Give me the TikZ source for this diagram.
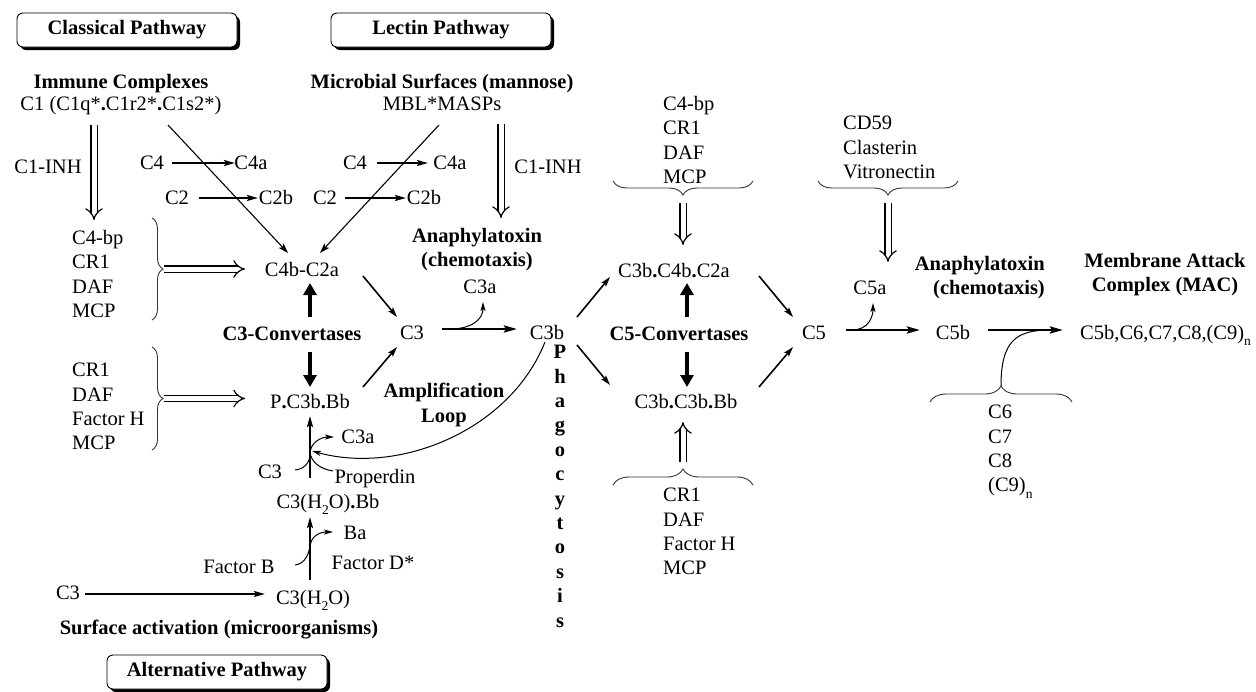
\documentclass[tikz,border=0pt]{standalone}
\usepackage{fontspec}
\setmainfont{Liberation Serif}
\usetikzlibrary{arrows.meta,calc,decorations.pathreplacing,shadows}
\newcommand\fs{\fontsize{20.5}{24.4}\selectfont}
\newcommand\bd{{\bfseries .}}
\newcommand\mysub[1]{\raisebox{-0.3em}{\fontsize{13.5}{14}\selectfont #1}}
\begin{document}
\begin{tikzpicture}[x=1pt,y=-1pt,
 t/.style={font=\fs, inner sep=0pt, text height=16pt, text depth=4pt},
 tb/.style={t, font=\fs\bfseries},
 ml/.style={font=\fs, inner sep=0pt},
 mlb/.style={font=\fs\bfseries, inner sep=0pt},
 pbox/.style={draw, rounded corners=6pt, line width=0.9pt, fill=white, minimum width=220pt, minimum height=34pt, font=\fs\bfseries, inner sep=0pt, drop shadow={shadow xshift=3pt, shadow yshift=-3pt, fill=black, opacity=1}},
 arr/.style={line width=1.6pt, -{Stealth[length=10pt,width=6pt,inset=2pt]}},
 thn/.style={line width=1.1pt, -{Stealth[length=10pt,width=6.5pt,inset=2pt]}},
 arrb/.style={line width=2pt, -{Stealth[length=11pt,width=6pt,inset=2pt]}},
 arrh/.style={line width=2.6pt, -{Stealth[length=13pt,width=7pt,inset=2pt]}},
 arrf/.style={line width=4.5pt, -{Triangle[length=12pt,width=13pt]}},
 dbl/.style={double=white, double distance=5pt, line width=1.2pt, -{Implies[length=9pt,width=17pt]}},
 brc/.style={decorate, decoration={brace, amplitude=#1}, line width=0.9pt, black!80},
 brc/.default=11pt,
 cur/.style={line width=1pt},
 cura/.style={line width=1pt, -{Stealth[length=9pt,width=5pt,inset=2pt]}},
]
\fill[white] (0,0) rectangle (1256,691);
\useasboundingbox (0,0) rectangle (1256,691);

% pathway boxes
\node[pbox] (boxC) at (127,30) {Classical Pathway};
\node[pbox] (boxL) at (441,30) {Lectin Pathway};
\node[pbox] (boxA) at (217,672) {Alternative Pathway};

% classical / lectin
\node[tb] (immune) at (121,82) {Immune Complexes};
\node[t] (c1) at (121,104) {C1 (C1q*\bd C1r2*\bd C1s2*)};
\node[tb] (micro) at (442,82) {Microbial Surfaces (mannose)};
\node[t] (mbl) at (442,104) {MBL*MASPs};
\node[t] (inh1) at (48,167) {C1-INH};
\node[t] (inh2) at (548,167) {C1-INH};
\node[t] (c4L) at (152,163) {C4};
\node[t] (c4aL) at (251,163) {C4a};
\node[t] (c2L) at (177,198) {C2};
\node[t] (c2bL) at (276,198) {C2b};
\node[t] (c4R) at (355,163) {C4};
\node[t] (c4aR) at (450,163) {C4a};
\node[t] (c2R) at (325,198) {C2};
\node[t] (c2bR) at (424,198) {C2b};
\node[t] (c4bc2a) at (302,270) {C4b-C2a};
\node[ml, anchor=north west, align=left] (l1) at (72,230) {C4-bp\\CR1\\DAF\\MCP};
\node[ml, anchor=north west, align=left] (l2) at (72,363) {CR1\\DAF\\Factor H\\MCP};
\node[tb] (c3conv) at (292,334) {C3-Convertases};
\node[t] (pc3bbb) at (310,402) {P\bd C3b\bd Bb};
\node[t] (c3m) at (412,333) {C3};
\node[mlb, anchor=north, align=center] (ampl) at (444,383) {Amplification\\Loop};
\node[mlb, anchor=north, align=center] (ana1) at (477,228) {Anaphylatoxin\\(chemotaxis)};
\node[t] (c3a) at (480,287) {C3a};
\node[t] (c3b) at (547,333) {C3b};
\node[mlb, anchor=north, align=center] (phago) at (560,345) {P\\h\\a\\g\\o\\c\\y\\t\\o\\s\\i\\s};

% C5 convertases
\node[t] (c3bc4bc2a) at (674,271) {C3b\bd C4b\bd C2a};
\node[tb] (c5conv) at (679,334) {C5-Convertases};
\node[t] (c3bc3bbb) at (686,402) {C3b\bd C3b\bd Bb};
\node[ml, anchor=north west, align=left] (l3) at (663,96) {C4-bp\\CR1\\DAF\\MCP};
\node[ml, anchor=north west, align=left] (l4) at (843,116) {CD59\\Clasterin\\Vitronectin};
\node[ml, anchor=north west, align=left] (l5) at (663,488) {CR1\\DAF\\Factor H\\MCP};
\node[t] (c5) at (814,333) {C5};
\node[t] (c5a) at (870,288) {C5a};
\node[mlb, anchor=north east, align=right] (ana2) at (1045,256) {Anaphylatoxin\\(chemotaxis)};
\node[mlb, anchor=north, align=center] (mac) at (1165,253) {Membrane Attack\\Complex (MAC)};
\node[t] (c5b) at (953,333) {C5b};
\node[t, anchor=west] (macf) at (1080,333) {C5b,C6,C7,C8,(C9)\mysub{n}};
\node[ml, anchor=north west, align=left] (l6) at (988,405) {C6\\C7\\C8\\(C9)\mysub{n}};

% alternative
\node[t] (c3l) at (270,472) {C3};
\node[t] (c3a2) at (358,437) {C3a};
\node[t] (prop) at (375,477) {Properdin};
\node[t] (c3h2obb) at (328,502) {C3(H\mysub{2}O)\bd Bb};
\node[t] (ba) at (355,533) {Ba};
\node[t] (facB) at (239,567) {Factor B};
\node[t] (facD) at (373,563) {Factor D*};
\node[t] (c3h2o) at (313,598) {C3(H\mysub{2}O)};
\node[t] (c3far) at (68,593) {C3};
\node[tb] (surf) at (219,628) {Surface activation (microorganisms)};

% ---- connectors: classical / lectin
\draw[dbl] ($(c1)+(-27,21)$) -- ($(l1.north west)+(22,-10)$);
\draw[dbl] ($(mbl)+(59,20)$) -- ($(ana1.north)+(24,-10)$);
\draw[arrb] ($(c4L)+(20,0)$) -- ($(c4aL)+(-16,0)$);
\draw[arrb] ($(c2L)+(22,0)$) -- ($(c2bL)+(-18,0)$);
\draw[arrb] ($(c4R)+(22,0)$) -- ($(c4aR)+(-22,0)$);
\draw[arrb] ($(c2R)+(20,0)$) -- ($(c2bR)+(-18,0)$);
\draw[thn] ($(c1)+(47,21)$) -- ($(c4bc2a)+(-14,-17)$);
\draw[thn] ($(mbl)+(-3,21)$) -- ($(c4bc2a)+(18,-17)$);
\draw[arr] ($(c4bc2a)+(61,6)$) -- ($(c3m)+(-15,-16)$);
\draw[arr] ($(pc3bbb)+(53,-15)$) -- ($(c3m)+(-15,14)$);
\draw[arrf] ($(c3conv)+(18,-17)$) -- ($(c4bc2a)+(8,13)$);
\draw[arrf] ($(c3conv)+(18,18)$) -- ($(pc3bbb)+(0,-15)$);

\draw[brc] (152,218) -- (152,320);
\coordinate (b1) at (164,269);
\draw[dbl] (b1) -- ($(c4bc2a)+(-57,-1)$);
\draw[brc] (152,347) -- (152,450);
\coordinate (b2) at (164,398.5);
\draw[dbl] (b2) -- ($(pc3bbb)+(-65,-3.5)$);

% C3 -> C3b
\draw[arrh] ($(c3m)+(30,-4)$) -- ($(c3b)+(-30,-4)$);
\draw[cura] ($(c3m)+(38,-4)$) .. controls ($(c3m)+(60,-4)$) and ($(c3a)+(3,32)$) .. ($(c3a)+(3,15)$);

% C3b -> C5 convertases -> C5
\draw[arr] ($(c3b)+(30,-16)$) -- ($(c3bc4bc2a)+(-64,6)$);
\draw[arr] ($(c3b)+(30,12)$) -- ($(c3bc3bbb)+(-76,-17)$);
\draw[arr] ($(c3bc4bc2a)+(85,5)$) -- ($(c5)+(-21,-16)$);
\draw[arr] ($(c3bc3bbb)+(73,-15)$) -- ($(c5)+(-21,14)$);
\draw[arrf] ($(c5conv)+(8,-17)$) -- ($(c3bc4bc2a)+(13,12)$);
\draw[arrf] ($(c5conv)+(8,18)$) -- ($(c3bc3bbb)+(1,-15)$);

\draw[brc=14pt] (753,181) -- (613,181);
\coordinate (b3) at (683,203);
\draw[dbl] (b3) -- ($(c3bc4bc2a)+(9,-26)$);
\draw[brc=14pt] (958,181) -- (818,181);
\coordinate (b4) at (888,203);
\draw[dbl] (b4) -- ($(c5a)+(18,-26)$);
\draw[brc=16pt] (613,485) -- (753,485);
\coordinate (b5) at (683,462);
\draw[dbl] (b5) -- ($(c3bc3bbb)+(-3,20)$);

% C5 -> C5b -> MAC
\draw[arrh] ($(c5)+(32,-3)$) -- ($(c5b)+(-33,-3)$);
\draw[cura] ($(c5)+(38,-3)$) .. controls ($(c5)+(55,-3)$) and ($(c5a)+(3,28)$) .. ($(c5a)+(3,15)$);
\draw[arrh] ($(c5b)+(35,-3)$) -- ($(macf.west)+(-17,-3)$);
\draw[brc=16pt] (930,402) -- (1072,402);
\coordinate (b6) at (1001,386);
\draw[cur] (b6) .. controls ($(b6)+(0,-45)$) and ($(b6)+(15,-56)$) .. ($(macf.west)+(-30,-3)$);

% alternative pathway
\draw[arrb] ($(c3far)+(17,1)$) -- ($(c3h2o)+(-48,-4)$);
\draw[arrb] ($(c3h2o)+(-3,-18)$) -- ($(c3h2obb)+(-18,15)$);
\draw[cur] ($(facB)+(56,-2)$) .. controls ($(facB)+(66,-3)$) and ($(c3h2o)+(-3,-45)$) .. ($(c3h2o)+(-3,-55)$);
\draw[cura] ($(c3h2o)+(-3,-50)$) .. controls ($(c3h2o)+(-3,-62)$) and ($(ba)+(-35,-1)$) .. ($(ba)+(-22,-1)$);
\draw[arrb] ($(c3h2obb)+(-18,-24)$) -- ($(pc3bbb)+(0,14)$);
\draw[cur] ($(c3l)+(25,-2)$) .. controls ($(c3l)+(35,-3)$) and ($(pc3bbb)+(0,60)$) .. ($(pc3bbb)+(0,52)$);
\draw[cur] ($(prop)+(-42,-6)$) .. controls ($(prop)+(-55,-8)$) and ($(pc3bbb)+(1,60)$) .. ($(pc3bbb)+(0,50)$);
\draw[cura] ($(pc3bbb)+(0,52)$) .. controls ($(pc3bbb)+(0,40)$) and ($(c3a2)+(-36,0)$) .. ($(c3a2)+(-24,0)$);
\draw[cura] ($(c3b)+(-2,9)$) .. controls ($(c3b)+(-37,97)$) and ($(pc3bbb)+(90,73)$) .. ($(pc3bbb)+(2,49)$);
\end{tikzpicture}
\end{document}
